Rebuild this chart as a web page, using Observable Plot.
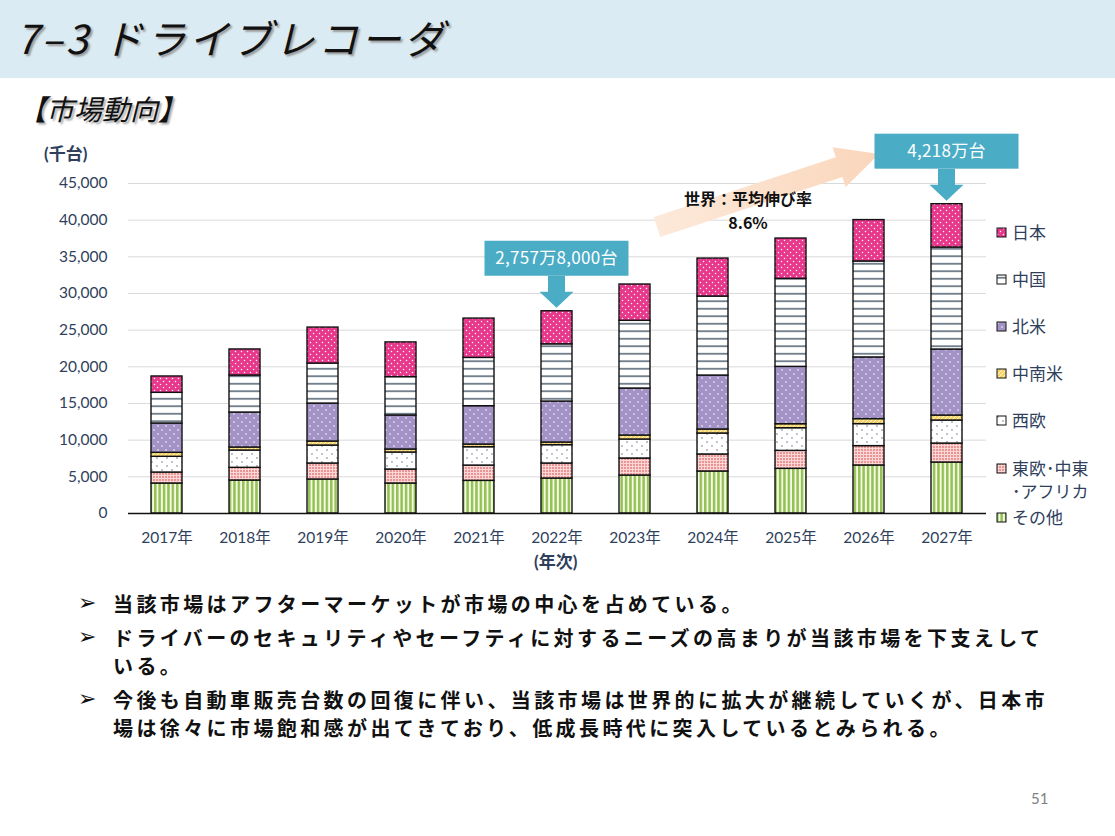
<!DOCTYPE html>
<html><head><meta charset="utf-8">
<script src="https://cdn.jsdelivr.net/npm/d3@7"></script>
<script src="https://cdn.jsdelivr.net/npm/@observablehq/plot@0.6"></script>
<style>
body{margin:0;width:1115px;height:836px;position:relative;background:#fff;font-family:"Noto Sans CJK JP",sans-serif;overflow:hidden}
#hdr{position:absolute;left:0;top:0;width:1115px;height:78px;background:#daebf3}
#title{position:absolute;left:16px;top:9px;font-size:40px;line-height:56px;font-style:italic;color:#111;text-shadow:2px 2px 2px #999;letter-spacing:3px;white-space:nowrap}
#sect{position:absolute;left:18px;top:88px;font-size:28px;line-height:40px;font-style:italic;color:#111;text-shadow:2px 2px 2px #aaa;white-space:nowrap}
#chart{position:absolute;left:0;top:140px}
#ylab{position:absolute;left:44px;top:140px;font-size:17px;font-weight:bold;color:#2f3f5c;font-family:Lato,"Noto Sans CJK JP",sans-serif}
#xlab{position:absolute;left:534px;top:548px;font-size:17px;font-weight:bold;color:#2f3f5c;font-family:Lato,"Noto Sans CJK JP",sans-serif}
#legend{position:absolute;left:996px;top:220px;font-size:17px;color:#2f3f5c}
.li{position:absolute;left:0;white-space:nowrap;line-height:23px}
.li svg{position:absolute;left:0;top:7px}
.li span{position:absolute;left:16px;top:0}
#overlay{position:absolute;left:0;top:0;pointer-events:none}
#bul{position:absolute;left:78px;top:590px;font-size:20px;font-weight:bold;color:#111;letter-spacing:3.4px}
.bl{position:absolute;left:0;white-space:nowrap;line-height:28px}
.bl .m{position:absolute;left:0;top:-1px;font-size:22px;letter-spacing:0;font-family:"DejaVu Sans",sans-serif}
.bl .t{position:absolute;left:35px;top:0}
#pg{position:absolute;left:1031px;top:789px;font-size:15px;color:#7f7f7f;font-family:Lato,sans-serif}
</style></head>
<body>
<svg width="0" height="0" style="position:absolute">
<defs>
<pattern id="p-jp" patternUnits="userSpaceOnUse" width="6" height="6">
<rect width="6" height="6" fill="#e7388c"/><circle cx="1.5" cy="1.5" r="0.75" fill="#fff"/><circle cx="4.5" cy="4.5" r="0.75" fill="#fff"/></pattern>
<pattern id="p-cn" patternUnits="userSpaceOnUse" width="8" height="7.5">
<rect width="8" height="7.5" fill="#fff"/><line x1="0" x2="8" y1="3.75" y2="3.75" stroke="#34475a" stroke-width="1.3"/></pattern>
<pattern id="p-na" patternUnits="userSpaceOnUse" width="8" height="8">
<rect width="8" height="8" fill="#a392c6"/><circle cx="2" cy="2" r="0.8" fill="#fff"/><circle cx="6" cy="6" r="0.8" fill="#fff"/></pattern>
<pattern id="p-sa" patternUnits="userSpaceOnUse" width="4" height="4">
<rect width="4" height="4" fill="#f5d465"/><path d="M-1,1 l2,-2 M0,4 l4,-4 M3,5 l2,-2" stroke="#fff6d6" stroke-width="1"/></pattern>
<pattern id="p-we" patternUnits="userSpaceOnUse" width="10" height="8">
<rect width="10" height="8" fill="#fff"/><circle cx="2" cy="2" r="0.65" fill="#44546a"/><circle cx="7" cy="6" r="0.65" fill="#44546a"/></pattern>
<pattern id="p-ee" patternUnits="userSpaceOnUse" width="3" height="3">
<rect width="3" height="3" fill="#fbd6d6"/><circle cx="1" cy="1" r="0.8" fill="#d63f3f"/></pattern>
<pattern id="p-ot" patternUnits="userSpaceOnUse" width="4.4" height="4">
<rect width="4.4" height="4" fill="#f6fae6"/><rect x="0" width="2.5" height="4" fill="#93c154"/></pattern>
<linearGradient id="g-ar" x1="0" x2="1" y1="0" y2="0">
<stop offset="0" stop-color="#fde9da"/><stop offset="1" stop-color="#fad6bb"/></linearGradient>
</defs></svg>

<div id="hdr"></div>
<div id="title">7‒3&nbsp;ドライブレコーダ</div>
<div id="sect">【市場動向】</div>
<div id="ylab">(千台)</div>
<div id="chart"></div>
<div id="xlab">(年次)</div>
<div id="legend"></div>
<svg id="overlay" width="1115" height="836"></svg>
<div id="bul"></div>
<div id="pg">51</div>

<script>
// ---- data ----
const years = ["2017年","2018年","2019年","2020年","2021年","2022年","2023年","2024年","2025年","2026年","2027年"];
// stacking order: bottom to top
const regions = ["その他","東欧・中東・アフリカ","西欧","中南米","北米","中国","日本"];
const other   = [4090,4500,4640,4090,4450,4770,5180,5730,6090,6550,6950];
const eastEu  = [1500,1730,2180,1910,2090,2050,2320,2320,2450,2640,2590];
const westEu  = [2140,2360,2450,2320,2500,2500,2590,2860,3090,3000,3140];
const latAm   = [545,410,545,410,360,360,545,545,545,680,680];
const northAm = [4000,4770,5180,4640,5230,5590,6410,7360,7820,8410,9000];
const china   = [4180,5050,5450,5230,6590,7800,9230,10770,12000,13090,13910];
const japan   = [2230,3550,4910,4730,5360,4510,4950,5180,5500,5640,5910];
const yTicks  = [0,5000,10000,15000,20000,25000,30000,35000,40000,45000];
const legendLabels = ["日本","中国","北米","中南米","西欧","東欧･中東<br>･アフリカ","その他"];
const patterns = ["url(#p-ot)","url(#p-ee)","url(#p-we)","url(#p-sa)","url(#p-na)","url(#p-cn)","url(#p-jp)"];
const callouts = [{year:"2022年", label:"2,757万8,000台"},{year:"2027年", label:"4,218万台"}];
const growthText = ["世界：平均伸び率","8.6%"];
const bullets = [
  ["当該市場はアフターマーケットが市場の中心を占めている。"],
  ["ドライバーのセキュリティやセーフティに対するニーズの高まりが当該市場を下支えして","いる。"],
  ["今後も自動車販売台数の回復に伴い、当該市場は世界的に拡大が継続していくが、日本市","場は徐々に市場飽和感が出てきており、低成長時代に突入しているとみられる。"]
];

const series = [other,eastEu,westEu,latAm,northAm,china,japan];
const rows = [];
regions.forEach((r,i)=>years.forEach((y,j)=>rows.push({year:y, region:r, value:series[i][j]})));

const plot = Plot.plot({
  width: 1000, height: 420,
  marginLeft: 128, marginRight: 14, marginTop: 43, marginBottom: 47,
  style: {fontFamily: 'Lato,"Noto Sans CJK JP",sans-serif', fontSize: "15.5px", color: "#2f3f5c", background: "transparent"},
  x: {domain: years, paddingInner: 0.6, paddingOuter: 0.3, label: null},
  y: {domain: [0,45000], label: null},
  color: {type: "ordinal", domain: regions, range: patterns},
  marks: [
    Plot.gridY(yTicks, {stroke: "#d9d9d9", strokeOpacity: 1, strokeWidth: 1}),
    Plot.axisY(yTicks, {tickSize: 0, tickPadding: 21, tickFormat: d3.format(","), fontSize: "15.5px"}),
    Plot.axisX({tickSize: 0, tickPadding: 18, fontSize: "15.5px"}),
    Plot.barY(rows, Plot.stackY({x: "year", y: "value", fill: "region", order: null, stroke: "#111", strokeWidth: 1.4})),
    Plot.ruleY([0], {stroke: "#111", strokeWidth: 1.6})
  ]
});
document.getElementById("chart").appendChild(plot);

// legend
const leg = document.getElementById("legend");
const legTops = [0,47,94,141,188,236,285];
const rev = patterns.slice().reverse();
legendLabels.forEach((lab,i)=>{
  const d = document.createElement("div");
  d.className = "li";
  d.style.top = legTops[i] + "px";
  d.innerHTML = `<svg width="11" height="11"><rect x="1" y="1" width="9" height="9" fill="${rev[i]}" stroke="#111" stroke-width="1"/></svg><span>${lab}</span>`;
  leg.appendChild(d);
});

// overlay annotations positioned through the plot scales
const sx = plot.scale("x"), sy = plot.scale("y");
const offY = 140;
const ov = d3.select("#overlay");
const totals = years.map((_,j)=>series.reduce((s,a)=>s+a[j],0));

// big growth arrow
const S=[657,227], T=[879,154];
const dx=T[0]-S[0], dy=T[1]-S[1], L=Math.hypot(dx,dy), ux=dx/L, uy=dy/L, nx=-uy, ny=ux;
const hw=10.5, hh=21, hl=42;
const B=[T[0]-ux*hl, T[1]-uy*hl];
const pts=[[S[0]+nx*hw,S[1]+ny*hw],[B[0]+nx*hw,B[1]+ny*hw],[B[0]+nx*hh,B[1]+ny*hh],T,[B[0]-nx*hh,B[1]-ny*hh],[B[0]-nx*hw,B[1]-ny*hw],[S[0]-nx*hw,S[1]-ny*hw]];
ov.append("polygon").attr("points", pts.map(p=>p.join(",")).join(" ")).attr("fill","url(#g-ar)");
ov.append("text").attr("x",748).attr("y",205).attr("text-anchor","middle").attr("font-size",16).attr("font-weight","bold").attr("fill","#111").text(growthText[0]);
ov.append("text").attr("x",748).attr("y",229).attr("text-anchor","middle").attr("font-size",16).attr("font-weight","bold").attr("fill","#111").text(growthText[1]);

callouts.forEach(c=>{
  const j = years.indexOf(c.year);
  const cx = sx.apply(c.year) + sx.bandwidth/2;
  const top = sy.apply(totals[j]) + offY;
  const tip = top - 3;
  const bw = 144, bh = 35;
  const by = tip - 67;
  const g = ov.append("g");
  g.append("rect").attr("x",cx-bw/2).attr("y",by).attr("width",bw).attr("height",bh).attr("fill","#4bacc6");
  g.append("polygon").attr("points",[
    [cx-8.5,by+bh],[cx+8.5,by+bh],[cx+8.5,tip-16],[cx+17,tip-16],[cx,tip],[cx-17,tip-16],[cx-8.5,tip-16]
  ].map(p=>p.join(",")).join(" ")).attr("fill","#4bacc6");
  g.append("text").attr("x",cx).attr("y",by+bh/2+6).attr("text-anchor","middle").attr("fill","#fff").attr("font-size",17).attr("letter-spacing",0.3).text(c.label);
});

// bullets
const bul = document.getElementById("bul");
let y = 0;
bullets.forEach(lines=>{
  lines.forEach((ln,k)=>{
    const d = document.createElement("div");
    d.className = "bl";
    d.style.top = y + "px";
    d.innerHTML = (k===0?'<span class="m">➢</span>':'') + `<span class="t">${ln}</span>`;
    bul.appendChild(d);
    y += 28;
  });
  y += 6;
});
</script>
</body></html>
